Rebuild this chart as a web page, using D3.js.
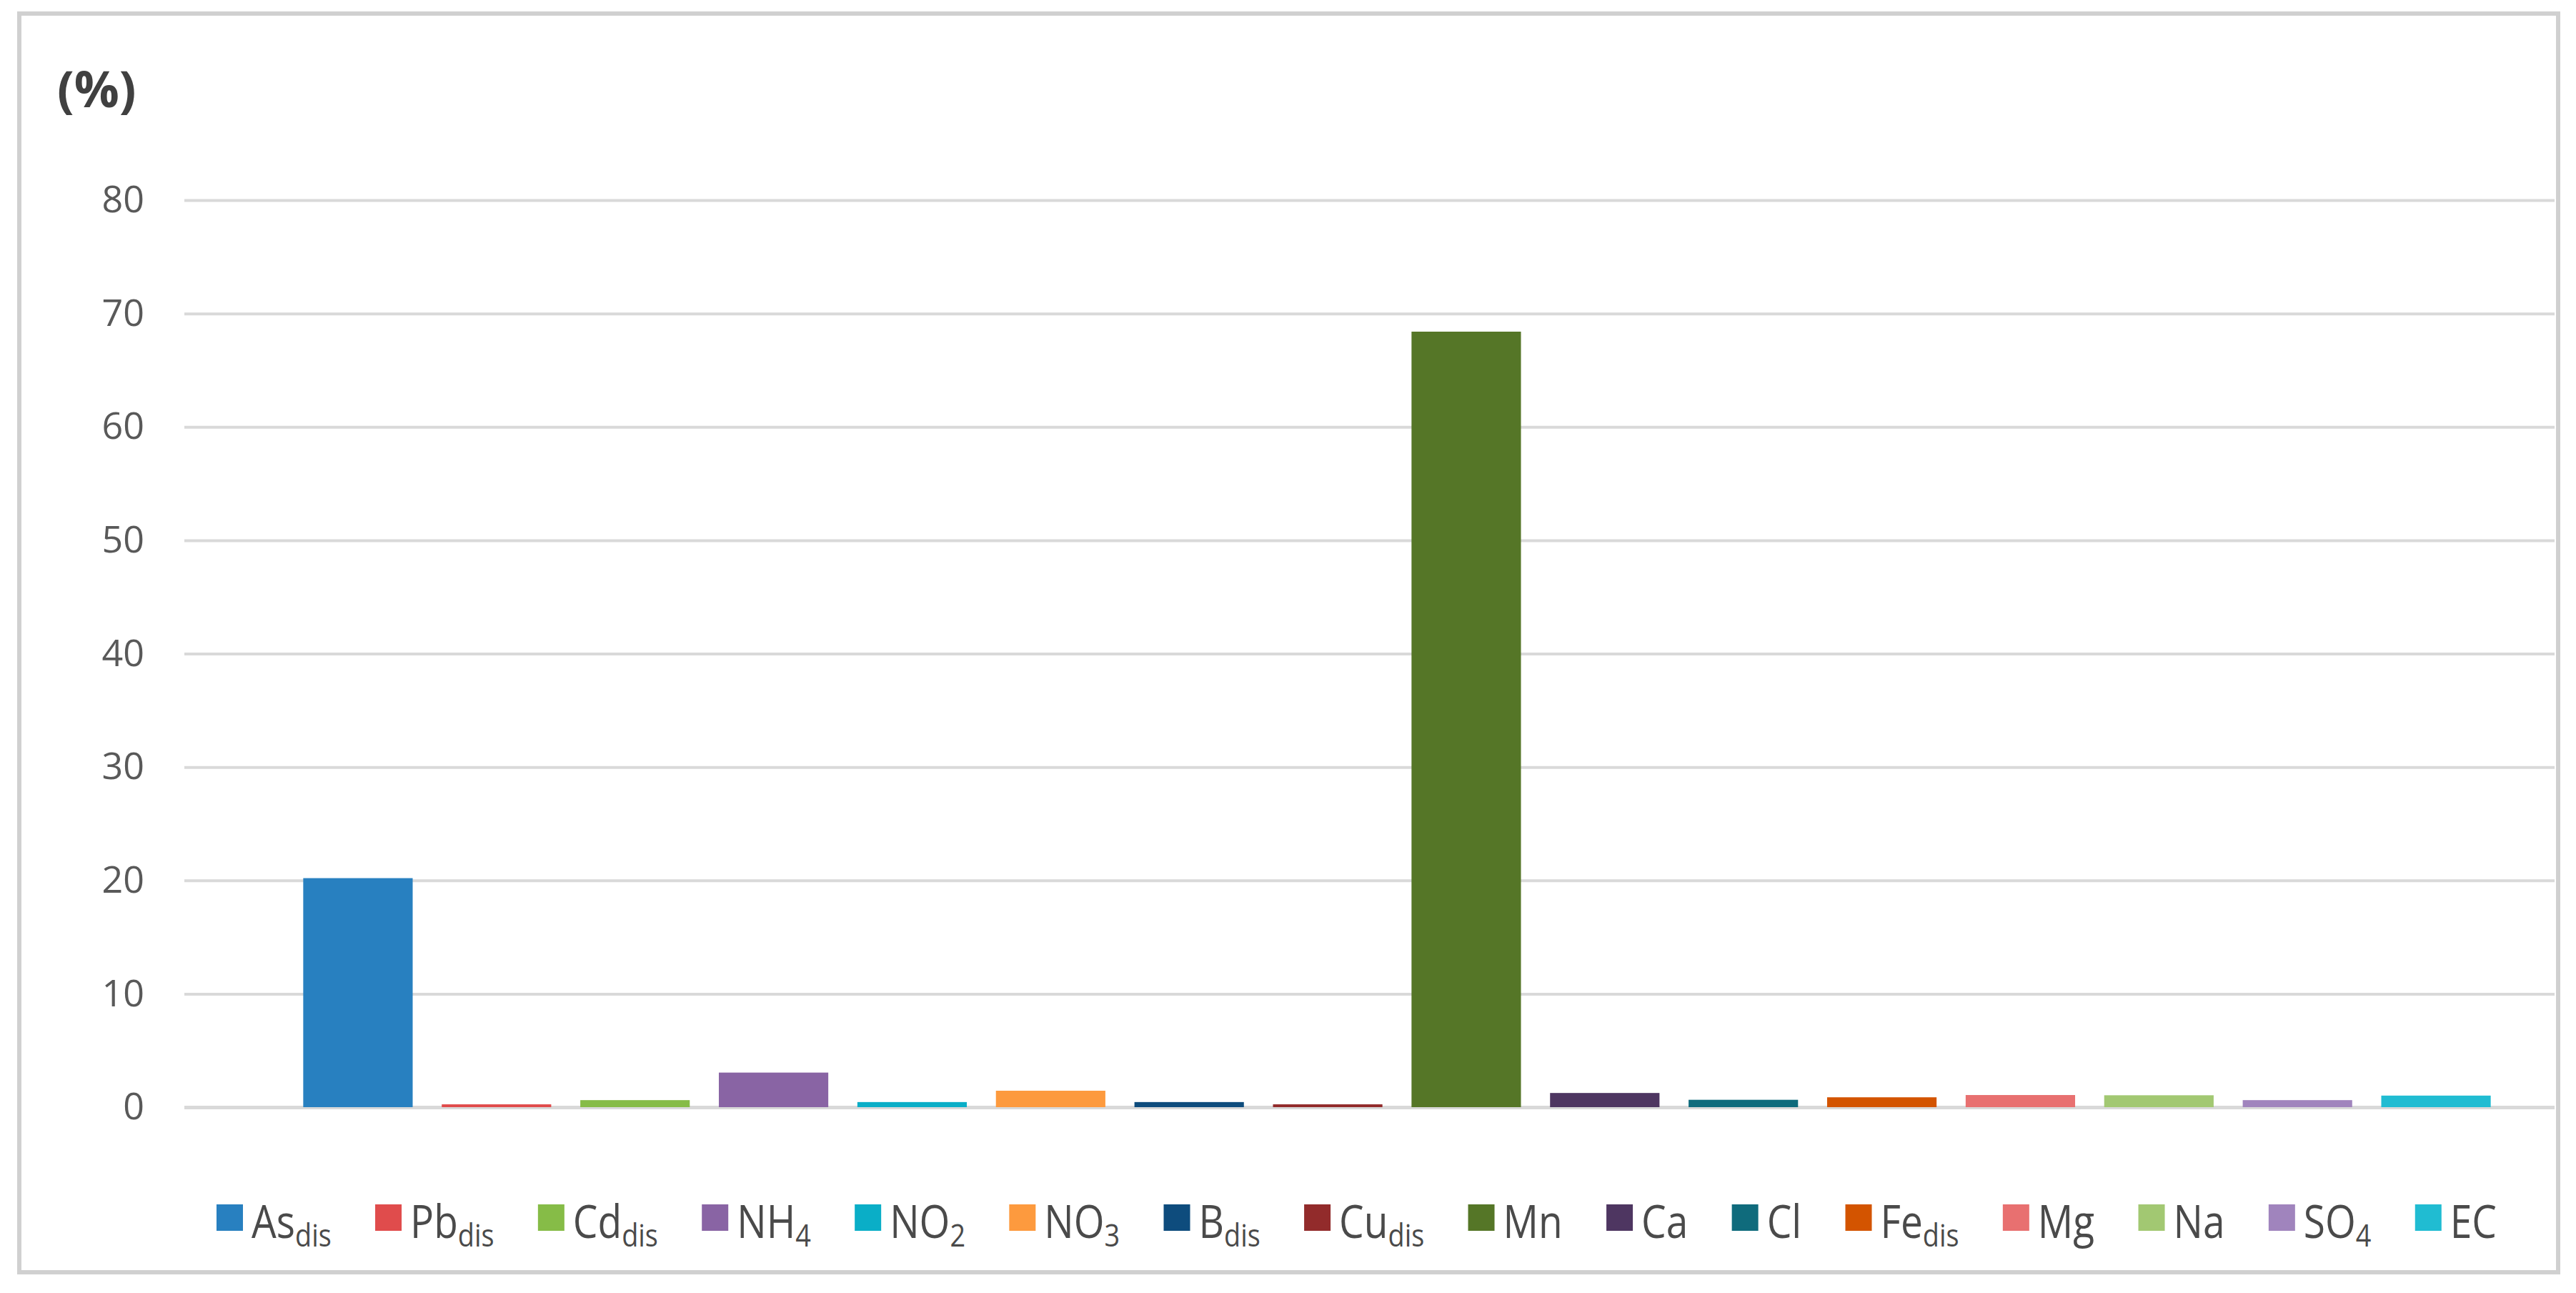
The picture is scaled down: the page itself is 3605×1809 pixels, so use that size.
<!DOCTYPE html>
<html>
<head>
<meta charset="utf-8">
<script src="https://cdn.jsdelivr.net/npm/d3@7"></script>
<style>
  html, body { margin: 0; padding: 0; background: #ffffff; }
  svg { display: block; }
</style>
</head>
<body>
<svg id="chart" width="3605" height="1809"></svg>
<script>
// ---- data ----
const labelBase = ["As", "Pb", "Cd", "NH", "NO", "NO", "B", "Cu", "Mn", "Ca", "Cl", "Fe", "Mg", "Na", "SO", "EC"];
const labelSub  = ["dis", "dis", "dis", "4", "2", "3", "dis", "dis", "", "", "", "dis", "", "", "4", ""];
const values    = [20.2, 0.25, 0.62, 3.05, 0.45, 1.45, 0.45, 0.25, 68.4, 1.25, 0.65, 0.87, 1.07, 1.05, 0.62, 1.02];
const colors    = ["#2880c0", "#e04c4c", "#86bc47", "#8964a4", "#0aaec7", "#fd9a3e", "#0e4c7d", "#922b2b",
                   "#557627", "#4e3661", "#0f6b7c", "#d35400", "#e87070", "#a2c872", "#a084bd", "#20bcd2"];
const yTicks    = [0, 10, 20, 30, 40, 50, 60, 70, 80];
const yUnit     = "(%)";

// ---- layout ----
const W = 3605, H = 1809;
const gridX0 = 258, gridX1 = 3575;
const barX0 = 404, barX1 = 3506;
const yTop = 280, yBottom = 1549;
const font = "'Open Sans', 'Noto Sans', sans-serif";

const svg = d3.select("#chart");

svg.append("rect").attr("x", 0).attr("y", 0).attr("width", W).attr("height", H).attr("fill", "#ffffff");
// outer frame
svg.append("rect")
  .attr("x", 27).attr("y", 19)
  .attr("width", 3580 - 27).attr("height", 1780 - 19)
  .attr("fill", "none").attr("stroke", "#d0d0d0").attr("stroke-width", 6);

const idx = d3.range(values.length);
const x = d3.scaleBand().domain(idx).range([barX0, barX1]).paddingInner(0.21).paddingOuter(0.105);
const y = d3.scaleLinear().domain([0, 80]).range([yBottom, yTop]);

// y axis with gridlines
const yAxis = d3.axisLeft(y)
  .tickValues(yTicks)
  .tickSize(-(gridX1 - gridX0))
  .tickPadding(56)
  .tickFormat(d3.format("d"));

const gAxis = svg.append("g")
  .attr("transform", `translate(${gridX0},0)`)
  .call(yAxis);
gAxis.select(".domain").remove();
gAxis.selectAll(".tick line")
  .attr("stroke", "#d9d9d9")
  .attr("stroke-width", d => d === 0 ? 5 : 4);
gAxis.selectAll(".tick text")
  .attr("fill", "#595959")
  .style("font-family", font)
  .style("font-size", "52px");

// unit label
svg.append("text")
  .attr("x", 80).attr("y", 150)
  .attr("fill", "#404040")
  .style("font-family", font)
  .style("font-weight", "bold")
  .style("font-size", "70px")
  .text(yUnit);

// bars
svg.append("g").selectAll("rect")
  .data(idx)
  .join("rect")
  .attr("x", i => x(i))
  .attr("width", x.bandwidth())
  .attr("y", i => y(values[i]))
  .attr("height", i => y(0) - y(values[i]))
  .attr("fill", i => colors[i]);

// legend
const legY = 1732;      // baseline of main text
const sw = 37;          // swatch size
const txtGap = 12;
const sx = 0.86;        // horizontal condensation of legend text
const legStart = 303, legEnd = 3494;
const legend = svg.append("g");
const items = legend.selectAll("g.item").data(idx).join("g").attr("class", "item");
items.append("rect")
  .attr("width", sw).attr("height", sw)
  .attr("y", 1685)
  .attr("fill", i => colors[i]);
const texts = items.append("text")
  .attr("transform", `translate(${sw + txtGap},${legY}) scale(${sx},1)`)
  .attr("fill", "#4a4a4a")
  .style("font-family", font)
  .style("font-size", "64px");
texts.append("tspan").text(i => labelBase[i]);
texts.append("tspan")
  .attr("dy", 12)
  .style("font-size", "44px")
  .text(i => labelSub[i]);

// distribute items between legStart and legEnd
const widths = idx.map(i => sw + txtGap + sx * texts.nodes()[i].getComputedTextLength());
const total = d3.sum(widths);
const gap = (legEnd - legStart - total) / (values.length - 1);
let cx = legStart;
items.each(function(i) {
  d3.select(this).attr("transform", `translate(${cx},0)`);
  cx += widths[i] + gap;
});
</script>
</body>
</html>
